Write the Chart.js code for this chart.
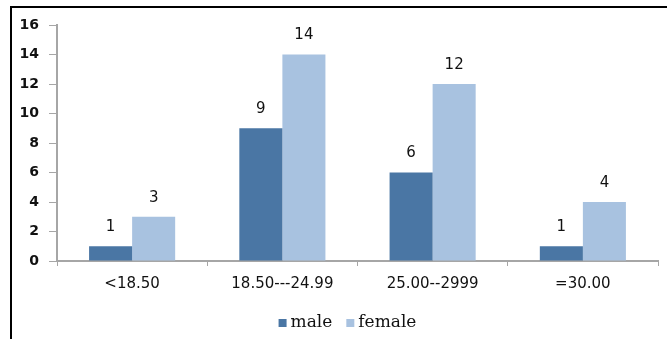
<!DOCTYPE html>
<html>
<head>
<meta charset="utf-8">
<script src="https://cdn.jsdelivr.net/npm/chart.js@4.4.1/dist/chart.umd.min.js"></script>
<style>
  html, body { margin: 0; padding: 0; background: #fff; }
  #wrap { position: relative; width: 667px; height: 339px; overflow: hidden; }
  #frame { position: absolute; left: 10px; top: 6px; width: 700px; height: 400px;
           border-top: 2px solid #000; border-left: 2px solid #000; pointer-events: none; }
  canvas { display: block; }
</style>
</head>
<body>
<div id="wrap">
  <canvas id="c" width="667" height="339"></canvas>
  <div id="frame"></div>
</div>
<script>
// BMI groups and counts by sex
const categories = ['<18.50', '18.50---24.99', '25.00--2999', '=30.00'];
const maleCounts = [1, 9, 6, 1];
const femaleCounts = [3, 14, 12, 4];
const yTicks = [0, 2, 4, 6, 8, 10, 12, 14, 16];

const MALE = '#4a76a4';
const FEMALE = '#a8c2e0';
const AXIS = '#a6a6a6';

// Writes each bar's value just above it
const valueLabels = {
  id: 'valueLabels',
  afterDatasetsDraw(chart) {
    const ctx = chart.ctx;
    ctx.save();
    ctx.font = '15px "DejaVu Sans", Verdana, sans-serif';
    ctx.fillStyle = '#111';
    ctx.textAlign = 'center';
    ctx.textBaseline = 'middle';
    chart.data.datasets.forEach((ds, i) => {
      chart.getDatasetMeta(i).data.forEach((bar, j) => {
        ctx.fillText(String(ds.data[j]), bar.x, bar.y - 19);
      });
    });
    ctx.restore();
  }
};

// Compact legend under the category labels: small square, tight gap, then the name
const compactLegend = {
  id: 'compactLegend',
  afterDraw(chart) {
    const ctx = chart.ctx;
    const area = chart.chartArea;
    const box = 8, gapText = 4, gapItem = 14, y = 323;
    ctx.save();
    ctx.font = '17px "DejaVu Serif", serif';
    ctx.textBaseline = 'middle';
    const items = chart.data.datasets.map(ds => ({
      text: ds.label, color: ds.backgroundColor, w: ctx.measureText(ds.label).width
    }));
    const total = items.reduce((s, it) => s + box + gapText + it.w, 0) + gapItem * (items.length - 1);
    let x = (area.left + area.right) / 2 - 10 - total / 2;
    items.forEach(it => {
      ctx.fillStyle = it.color;
      ctx.fillRect(x, y - box / 2, box, box);
      x += box + gapText;
      ctx.fillStyle = '#111';
      ctx.fillText(it.text, x, y);
      x += it.w + gapItem;
    });
    ctx.restore();
  }
};

new Chart(document.getElementById('c'), {
  type: 'bar',
  data: {
    labels: categories,
    datasets: [
      { label: 'male', data: maleCounts, backgroundColor: MALE,
        categoryPercentage: 0.573, barPercentage: 1.0 },
      { label: 'female', data: femaleCounts, backgroundColor: FEMALE,
        categoryPercentage: 0.573, barPercentage: 1.0 }
    ]
  },
  options: {
    responsive: false,
    animation: false,
    layout: { padding: { left: 0, right: 9, top: 25, bottom: 0 } },
    plugins: {
      tooltip: { enabled: false },
      legend: { display: false }
    },
    scales: {
      x: {
        grid: { display: true, drawOnChartArea: false, drawTicks: true, tickLength: 5,
                color: AXIS, offset: true },
        border: { display: true, color: AXIS, width: 2 },
        ticks: { color: '#111', padding: 9,
                 font: { family: '"DejaVu Sans", Verdana, sans-serif', size: 15 } },
        afterFit(scale) { scale.height = 78; }
      },
      y: {
        min: 0, max: 16,
        afterBuildTicks(scale) { scale.ticks = yTicks.map(v => ({ value: v })); },
        grid: { display: true, drawOnChartArea: false, drawTicks: true, tickLength: 8,
                color: AXIS },
        border: { display: true, color: AXIS, width: 2 },
        ticks: { color: '#111', padding: 10,
                 font: { family: '"DejaVu Sans", Verdana, sans-serif', size: 14, weight: 'bold' } },
        afterFit(scale) { scale.width = 57; }
      }
    }
  },
  plugins: [valueLabels, compactLegend]
});
</script>
</body>
</html>
